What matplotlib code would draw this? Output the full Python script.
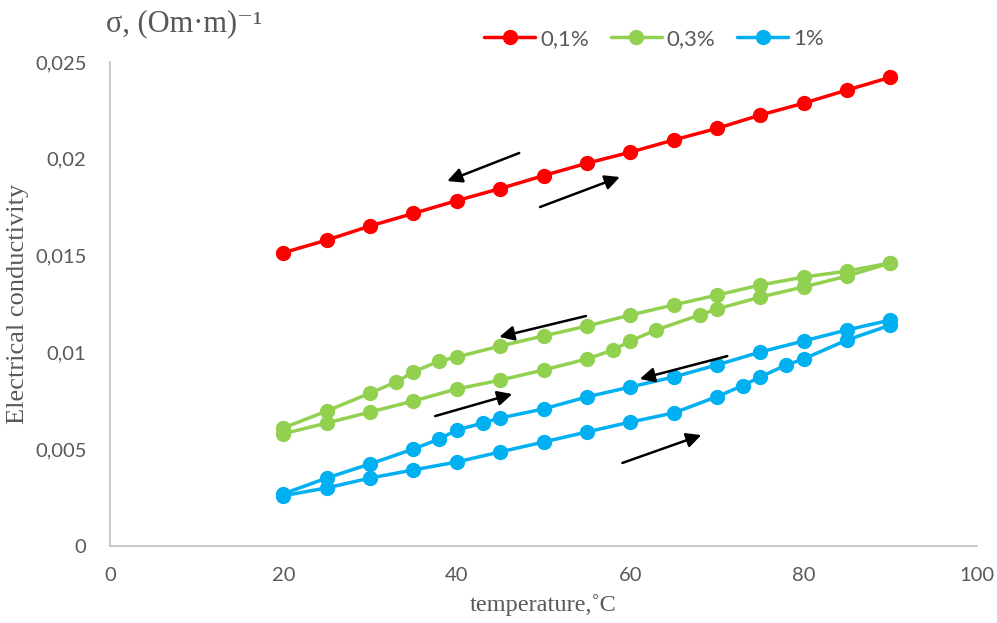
import matplotlib
matplotlib.use("Agg")
import matplotlib.pyplot as plt

# ---------------- data ----------------
x_red = [20, 25, 30, 35, 40, 45, 50, 55, 60, 65, 70, 75, 80, 85, 90]
y_red = [0.01515, 0.0158, 0.01653, 0.01718, 0.01784, 0.01846, 0.01913, 0.01977,
         0.02034, 0.02097, 0.02157, 0.02226, 0.02287, 0.02355, 0.02421]

x_green_cool = [20, 25, 30, 33, 35, 38, 40, 45, 50, 55, 60, 65, 70, 75, 80, 85, 90]
y_green_cool = [0.0061, 0.00697, 0.0079, 0.00847, 0.00899, 0.00956, 0.00976, 0.01033,
                0.01085, 0.01136, 0.01193, 0.01245, 0.01296, 0.01348, 0.01389, 0.0142, 0.01462]
x_green_heat = [20, 25, 30, 35, 40, 45, 50, 55, 58, 60, 63, 68, 70, 75, 80, 85, 90]
y_green_heat = [0.0058, 0.00635, 0.00692, 0.00749, 0.00811, 0.00857, 0.00909, 0.00966,
                0.01012, 0.01059, 0.01116, 0.01193, 0.01224, 0.01286, 0.01338, 0.01394, 0.01462]

x_blue_cool = [20, 25, 30, 35, 38, 40, 43, 45, 50, 55, 60, 65, 70, 75, 80, 85, 90]
y_blue_cool = [0.0027, 0.00351, 0.00424, 0.00501, 0.00553, 0.00599, 0.00635, 0.00661,
               0.00708, 0.0077, 0.00821, 0.00873, 0.00935, 0.01002, 0.01059, 0.01116, 0.01167]
x_blue_heat = [20, 25, 30, 35, 40, 45, 50, 55, 60, 65, 70, 73, 75, 78, 80, 85, 90]
y_blue_heat = [0.0026, 0.003, 0.00351, 0.00393, 0.00434, 0.00486, 0.00537, 0.00589,
               0.0064, 0.00687, 0.00771, 0.00829, 0.00873, 0.00935, 0.00966, 0.01064, 0.01141]

series_labels = ["0,1%", "0,3%", "1%"]
x_ticks = [0, 20, 40, 60, 80, 100]
y_ticks = [0, 0.005, 0.01, 0.015, 0.02, 0.025]
y_tick_labels = ["0", "0,005", "0,01", "0,015", "0,02", "0,025"]

# arrows: (tail_x, tail_y, head_x, head_y)
arrows = [
    (47.2, 0.0203, 38.9, 0.01885),
    (49.6, 0.01751, 58.8, 0.01906),
    (54.9, 0.01188, 44.9, 0.0108),
    (37.5, 0.00671, 46.4, 0.00785),
    (71.2, 0.00981, 61.1, 0.00863),
    (59.1, 0.00429, 68.2, 0.00573),
]

# ---------------- style ----------------
RED = "#FF0000"
GREEN = "#92D050"
BLUE = "#00B0F0"
GRAY_TXT = "#595959"
AX_GRAY = "#BFBFBF"
TICK_FONT = ["Lato", "DejaVu Sans"]
SERIF = ["Liberation Serif", "DejaVu Serif"]

fig = plt.figure(figsize=(9.97, 6.23), dpi=100)
ax = fig.add_axes([110 / 997, 1 - 546 / 623, (977 - 110) / 997, (546 - 62) / 623])

lw = 2.5
ms = 10
kw = dict(linewidth=lw, marker="o", markersize=ms, solid_capstyle="round")

ax.plot(x_green_heat, y_green_heat, color=GREEN, **kw)
ax.plot(x_green_cool, y_green_cool, color=GREEN, label=series_labels[1], **kw)
ax.plot(x_blue_heat, y_blue_heat, color=BLUE, **kw)
ax.plot(x_blue_cool, y_blue_cool, color=BLUE, label=series_labels[2], **kw)
ax.plot(x_red, y_red, color=RED, label=series_labels[0], **kw)

for tx, ty, hx, hy in arrows:
    ax.annotate("", xy=(hx, hy), xytext=(tx, ty),
                arrowprops=dict(arrowstyle="-|>", color="black", lw=1.8,
                                mutation_scale=22, shrinkA=0, shrinkB=0))

ax.set_xlim(0, 100)
ax.set_ylim(0, 0.025)
ax.set_xticks(x_ticks)
ax.set_xticklabels([str(t) for t in x_ticks])
ax.set_yticks(y_ticks)
ax.set_yticklabels(y_tick_labels)
ax.tick_params(axis="both", length=0, labelcolor=GRAY_TXT, labelsize=14.5)
ax.tick_params(axis="y", pad=17)
ax.tick_params(axis="x", pad=15)
for lab in ax.get_xticklabels() + ax.get_yticklabels():
    lab.set_family(TICK_FONT)

for s in ["top", "right"]:
    ax.spines[s].set_visible(False)
for s in ["left", "bottom"]:
    ax.spines[s].set_color(AX_GRAY)
    ax.spines[s].set_linewidth(1.2)

ax.set_xlabel("temperature,˚C", family=SERIF, fontsize=17.5, color=GRAY_TXT, labelpad=7)
ax.set_ylabel("Electrical conductivity", family=SERIF, fontsize=19, color=GRAY_TXT, labelpad=4)

fig.text(106 / 997, 1 - 24 / 623, "σ, (Om·m)⁻¹", family=SERIF, fontsize=22,
         color=GRAY_TXT, ha="left", va="center")

h, l = ax.get_legend_handles_labels()
order = [l.index(s) for s in series_labels]
leg = fig.legend([h[i] for i in order], [l[i] for i in order], loc="center",
                 bbox_to_anchor=(654 / 997, 1 - 39 / 623), ncol=3, frameon=False,
                 handlelength=2.3, handletextpad=0.2, columnspacing=1.0,
                 prop={"family": TICK_FONT, "size": 16})
for t in leg.get_texts():
    t.set_color(GRAY_TXT)

fig.savefig("out.png", dpi=100)
